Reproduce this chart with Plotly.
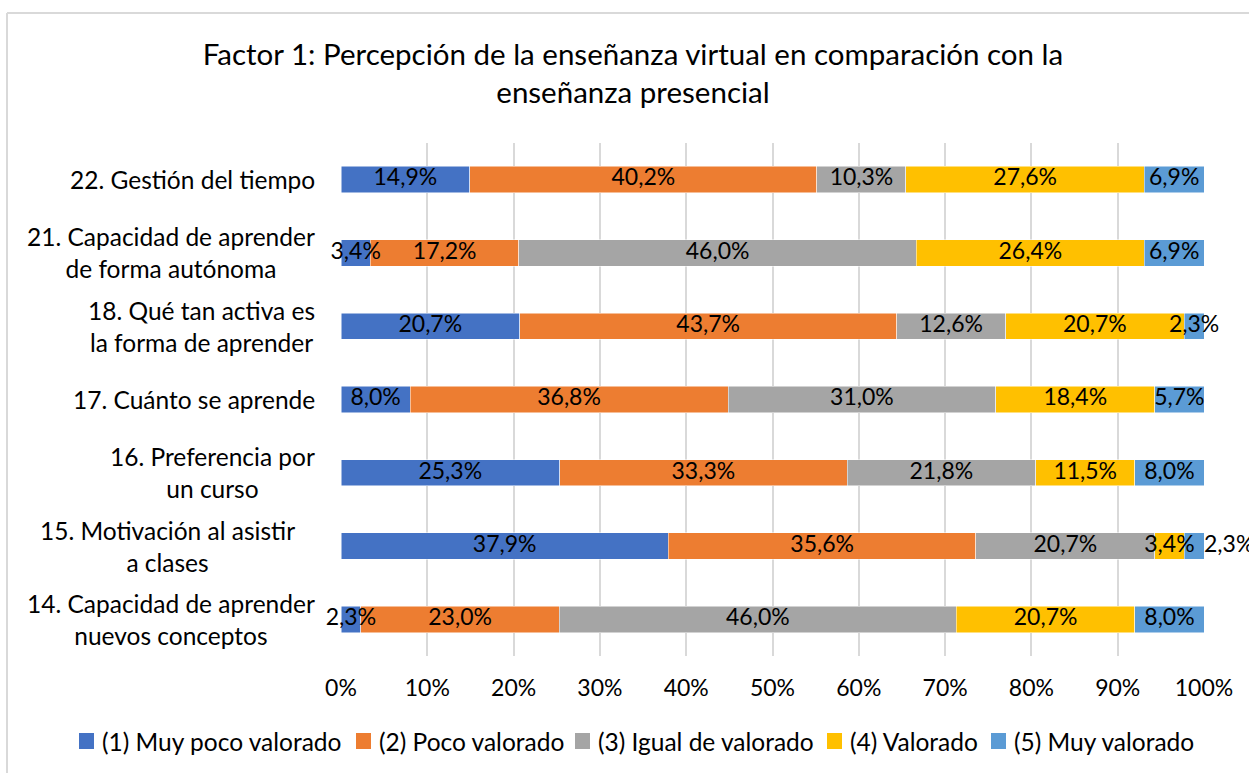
import plotly.graph_objects as go

categories = [
    "14. Capacidad de aprender<br>nuevos conceptos",
    "15. Motivación al asistir<br>a clases",
    "16. Preferencia por<br>un curso",
    "17. Cuánto se aprende",
    "18. Qué tan activa es<br>la forma de aprender",
    "21. Capacidad de aprender<br>de forma autónoma",
    "22. Gestión del tiempo",
]
series_names = ["(1) Muy poco valorado", "(2) Poco valorado", "(3) Igual de valorado",
                "(4) Valorado", "(5) Muy valorado"]
s1 = [2.3, 37.9, 25.3, 8.0, 20.7, 3.4, 14.9]
s2 = [23.0, 35.6, 33.3, 36.8, 43.7, 17.2, 40.2]
s3 = [46.0, 20.7, 21.8, 31.0, 12.6, 46.0, 10.3]
s4 = [20.7, 3.4, 11.5, 18.4, 20.7, 26.4, 27.6]
s5 = [8.0, 2.3, 8.0, 5.7, 2.3, 6.9, 6.9]
colors = ["#4472C4", "#ED7D31", "#A5A5A5", "#FFC000", "#5B9BD5"]
tick_vals = [0, 10, 20, 30, 40, 50, 60, 70, 80, 90, 100]
tick_text = [f"{v}%" for v in tick_vals]
title = "Factor 1: Percepción de la enseñanza virtual en comparación con la<br>enseñanza presencial"

FONT = "Lato"
W, H = 1249, 773
ML, MR, MT, MB = 341, 45, 143, 117
PW, PH = W - ML - MR, H - MT - MB


def px_x(px):
    return (px - ML) / PW


def px_y(py):
    return (H - MB - py) / PH


fig = go.Figure()
all_series = [s1, s2, s3, s4, s5]
ypos = list(range(len(categories)))
for name, vals, col in zip(series_names, all_series, colors):
    fig.add_trace(go.Bar(
        y=ypos, x=vals, name=name, orientation="h",
        marker=dict(color=col, line=dict(color="white", width=0.5)),
        hoverinfo="skip", showlegend=False,
    ))

# data labels on top of all bars (positions derived from the normalised data)
totals = [sum(v) for v in zip(*all_series)]
cum = [0.0] * len(categories)
for k, vals in enumerate(all_series):
    xs, txt, tpos = [], [], []
    for i, v in enumerate(vals):
        start = cum[i] / totals[i] * 100
        end = (cum[i] + v) / totals[i] * 100
        cum[i] += v
        label = f"{v:.1f}".replace(".", ",") + "%"
        if k == 4 and i == 1:
            xs.append(end)
            tpos.append("middle right")
        else:
            xs.append((start + end) / 2)
            tpos.append("middle center")
        txt.append(label)
    fig.add_trace(go.Scatter(
        x=xs, y=ypos, mode="text", text=txt, textposition=tpos,
        textfont=dict(family=FONT, size=23, color="#000000"),
        cliponaxis=False, hoverinfo="skip", showlegend=False,
    ))

label_shift = [-24, -44, -24, -24, -24, -24, -24]
for i, c in enumerate(categories):
    fig.add_annotation(x=0, xref="paper", y=i, yref="y", text=c, showarrow=False,
                       xanchor="right", align="center", xshift=label_shift[i],
                       font=dict(family=FONT, size=24.5, color="#000000"))

# legend drawn manually (single row, like the reference)
legend_square_px = [79, 356, 575, 827, 991]
for name, col, sx in zip(series_names, colors, legend_square_px):
    fig.add_shape(type="rect", xref="paper", yref="paper",
                  x0=px_x(sx), x1=px_x(sx + 15), y0=px_y(749), y1=px_y(733),
                  fillcolor=col, line=dict(width=0))
    fig.add_annotation(x=px_x(sx + 21), xref="paper", y=px_y(741), yref="paper",
                       text=name, showarrow=False, xanchor="left", yanchor="middle",
                       font=dict(family=FONT, size=24.5, color="#000000"))

# chart frame (top and left edges visible in the reference)
fig.add_shape(type="line", xref="paper", yref="paper", x0=px_x(7), x1=px_x(1260),
              y0=px_y(13), y1=px_y(13), line=dict(color="#D9D9D9", width=2))
fig.add_shape(type="line", xref="paper", yref="paper", x0=px_x(7), x1=px_x(7),
              y0=px_y(13), y1=px_y(790), line=dict(color="#D9D9D9", width=2))

fig.update_layout(
    width=W, height=H,
    margin=dict(l=ML, r=MR, t=MT, b=MB),
    barmode="stack", barnorm="percent", bargap=0.64,
    paper_bgcolor="white", plot_bgcolor="white",
    title=dict(text=title, x=633 / W, xref="container", y=1 - 65 / H, yref="container",
               yanchor="top", xanchor="center",
               font=dict(family=FONT, size=29.5, color="#000000")),
    xaxis=dict(range=[0, 100], tickvals=tick_vals, ticktext=tick_text, showgrid=True,
               gridcolor="#D9D9D9", gridwidth=2, zeroline=False, showline=False,
               tickfont=dict(family=FONT, size=23, color="#000000"),
               ticks="outside", ticklen=11, tickcolor="rgba(0,0,0,0)"),
    yaxis=dict(range=[-0.5, len(categories) - 0.5], showticklabels=False, showgrid=False,
               zeroline=False),
    showlegend=False,
)
fig.write_html("out.html", config={"displayModeBar": False},
               post_script="document.body.style.margin='0';")
